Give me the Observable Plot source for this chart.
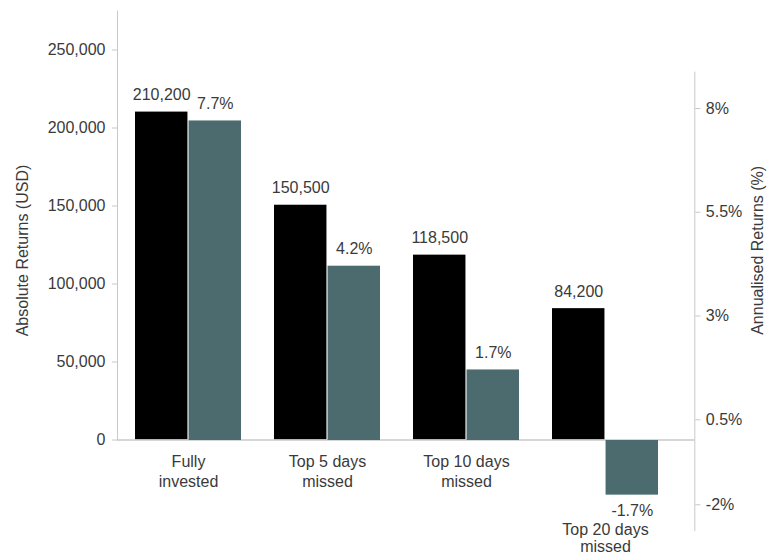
<!DOCTYPE html>
<html>
<head>
<meta charset="utf-8">
<script src="https://cdn.jsdelivr.net/npm/d3@7"></script>
<script src="https://cdn.jsdelivr.net/npm/@observablehq/plot@0.6"></script>
<style>
  html, body { margin: 0; padding: 0; background: #fff; }
  #chart { position: relative; width: 767px; height: 557px; }
  #chart svg { position: absolute; left: 0; top: 0; }
</style>
</head>
<body>
<div id="chart"></div>
<script>
// ---- data ----
const categories = ["Fully\ninvested", "Top 5 days\nmissed", "Top 10 days\nmissed", "Top 20 days\nmissed"];
const absoluteUSD = [210200, 150500, 118500, 84200];
const annualisedPct = [7.7, 4.2, 1.7, -1.7];
const usdTicks = [0, 50000, 100000, 150000, 200000, 250000];
const pctTicks = [8, 5.5, 3, 0.5, -2];
const leftTitle = ["Absolute Returns (USD)"];
const rightTitle = ["Annualised Returns (%)"];

const rows = categories.map((c, i) => ({cat: c, usd: absoluteUSD[i], pct: annualisedPct[i]}));

// ---- layout ----
const W = 767, H = 557;
const mL = 117, mR = 72.7;
const xRange = [117, 676.3];
const padIn = 0.234, padOut = 0.117;
const bw = d3.scaleBand().domain(categories).range(xRange).paddingInner(padIn).paddingOuter(padOut).bandwidth();
const font = "'Liberation Sans', Arial, Helvetica, sans-serif";
const txt = "#3a3a3a";
const grid = "#c8c8c8";
const black = "#000000";
const teal = "#4b6b6e";

const xScale = {type: "band", domain: categories, range: xRange, paddingInner: padIn, paddingOuter: padOut, axis: null};

// Left plot: absolute USD
const left = Plot.plot({
  width: W, height: H,
  marginLeft: mL, marginRight: mR, marginTop: 10.5, marginBottom: 117.5,
  style: {fontFamily: font, fontSize: "16px", background: "transparent", overflow: "visible"},
  x: xScale,
  y: {domain: [0, 275000], axis: null},
  marks: [
    Plot.barY(rows, {x: "cat", y: "usd", fill: black, insetRight: bw / 2}),
    Plot.frame({anchor: "left", stroke: grid}),
    Plot.ruleY([0], {stroke: grid, strokeWidth: 1.5}),
    Plot.axisY({ticks: usdTicks, tickFormat: d3.format(","), tickSize: 5, tickPadding: 7, stroke: grid, fill: txt, label: null}),
    Plot.text(rows, {x: "cat", y: "usd", text: d => d3.format(",")(d.usd), dx: -bw / 4, dy: -17, fill: txt}),
    Plot.text(leftTitle, {frameAnchor: "left", textAnchor: "middle", rotate: -90, dx: -95, dy: 25, fill: txt})
  ]
});

// Right plot: annualised %
const right = Plot.plot({
  width: W, height: H,
  marginLeft: mL, marginRight: mR, marginTop: 71.7, marginBottom: 27,
  style: {fontFamily: font, fontSize: "16px", background: "transparent", overflow: "visible"},
  x: xScale,
  y: {type: "linear", domain: [-2.8, 0, 8.875], range: [530, 440, 71.7], axis: null},
  marks: [
    Plot.barY(rows, {x: "cat", y: "pct", fill: teal, insetLeft: bw / 2}),
    Plot.frame({anchor: "right", stroke: grid}),
    Plot.axisY({anchor: "right", ticks: pctTicks, tickFormat: d => d + "%", tickSize: 5, tickPadding: 6, stroke: grid, fill: txt, label: null}),
    Plot.text(rows.filter(d => d.pct >= 0), {x: "cat", y: "pct", text: d => d.pct.toFixed(1) + "%", dx: bw / 4, dy: -17, fill: txt}),
    Plot.text(rows.filter(d => d.pct < 0), {x: "cat", y: "pct", text: d => d.pct.toFixed(1) + "%", dx: bw / 4, dy: 16, fill: txt}),
    Plot.text(rows.filter(d => d.pct >= 0), {x: "cat", y: () => 0, text: "cat", lineAnchor: "top", lineHeight: 1.25, dy: 12, fill: txt}),
    Plot.text(rows.filter(d => d.pct < 0), {x: "cat", y: "pct", text: "cat", lineAnchor: "top", lineHeight: 1.1, dy: 27, fill: txt}),
    Plot.text(rightTitle, {frameAnchor: "right", textAnchor: "middle", rotate: -90, dx: 63, dy: -51, fill: txt})
  ]
});

const host = document.getElementById("chart");
host.appendChild(left);
host.appendChild(right);
</script>
</body>
</html>
